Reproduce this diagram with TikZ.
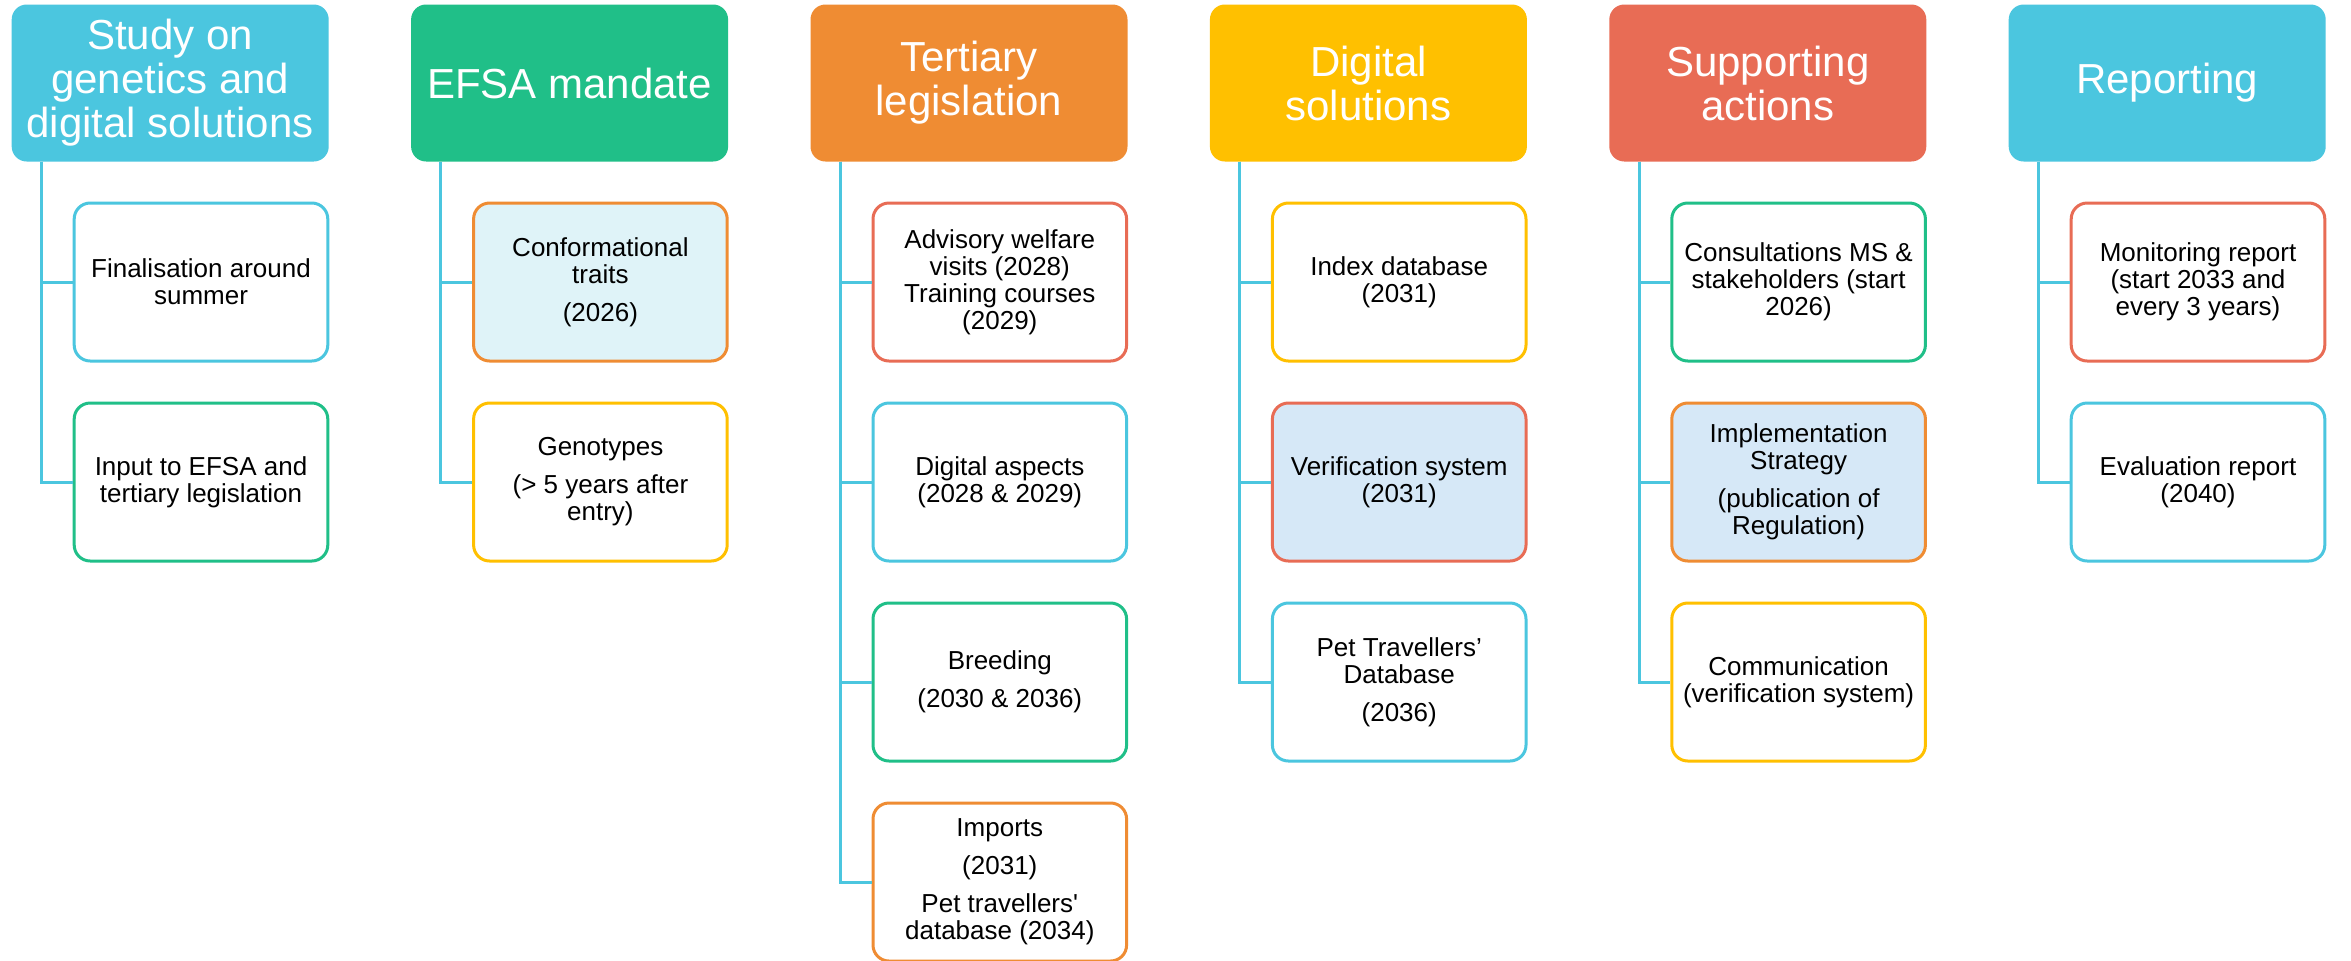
\documentclass[tikz,border=0pt]{standalone}
\usepackage{fontspec}
\setmainfont{Liberation Sans}
\definecolor{ccyan}{HTML}{4BC6DF}
\definecolor{cgreen}{HTML}{20BF88}
\definecolor{corange}{HTML}{EF8C33}
\definecolor{cyellow}{HTML}{FFC000}
\definecolor{cred}{HTML}{E86C55}
\definecolor{fcyan}{HTML}{DFF3F8}
\definecolor{fblue}{HTML}{D6E8F7}
\tikzset{
  hdr/.style={fill=#1, draw=none, rounded corners=7.5pt, minimum width=158.5pt, minimum height=78.5pt,
    inner sep=0pt, align=center, text=white, font=\fontsize{21}{22}\selectfont},
  kid/.style={draw=#1, fill=white, line width=1.5pt, rounded corners=8pt, minimum width=126.8pt, minimum height=79pt,
    inner sep=0pt, align=center, text=black, font=\fontsize{13}{13.5}\selectfont},
  conn/.style={draw=ccyan, line width=1.5pt}
}
\begin{document}
\begin{tikzpicture}[x=0.5pt,y=-0.5pt]
\useasboundingbox (0,0) rectangle (2351,960);
\fill[white] (0,0) rectangle (2351,960);

% ---------- Column 1
\node[hdr=ccyan] (h1) at (170.2,83) {Study on\\genetics and\\digital solutions};
\node[kid=ccyan] (c1a) at (201,282) {Finalisation around\\summer};
\node[kid=cgreen] (c1b) at (201,482) {Input to EFSA and\\tertiary legislation};
\coordinate (t1) at (41.4,161.5);
\draw[conn] (t1) |- (c1b.west);
\draw[conn] (t1) |- (c1a.west);

% ---------- Column 2
\node[hdr=cgreen] (h2) at (569.6,83) {EFSA mandate};
\node[kid=corange, fill=fcyan] (c2a) at (600.4,282) {Conformational\\traits\\[5.5pt](2026)};
\node[kid=cyellow] (c2b) at (600.4,482) {Genotypes\\[5.5pt](> 5 years after\\entry)};
\coordinate (t2) at (440.8,161.5);
\draw[conn] (t2) |- (c2b.west);
\draw[conn] (t2) |- (c2a.west);

% ---------- Column 3
\node[hdr=corange] (h3) at (969,83) {Tertiary\\legislation};
\node[kid=cred] (c3a) at (999.8,282) {Advisory welfare\\visits (2028)\\Training courses\\(2029)};
\node[kid=ccyan] (c3b) at (999.8,482) {Digital aspects\\(2028 \& 2029)};
\node[kid=cgreen] (c3c) at (999.8,682) {Breeding\\[5.5pt](2030 \& 2036)};
\node[kid=corange] (c3d) at (999.8,882) {Imports\\[5.5pt](2031)\\[5.5pt]Pet travellers\textquotesingle\\database (2034)};
\coordinate (t3) at (840.2,161.5);
\draw[conn] (t3) |- (c3d.west);
\draw[conn] (t3) |- (c3c.west);
\draw[conn] (t3) |- (c3b.west);
\draw[conn] (t3) |- (c3a.west);

% ---------- Column 4
\node[hdr=cyellow] (h4) at (1368.4,83) {Digital\\solutions};
\node[kid=cyellow] (c4a) at (1399.2,282) {Index database\\(2031)};
\node[kid=cred, fill=fblue] (c4b) at (1399.2,482) {Verification system\\(2031)};
\node[kid=ccyan] (c4c) at (1399.2,682) {Pet Travellers’\\Database\\[5.5pt](2036)};
\coordinate (t4) at (1239.6,161.5);
\draw[conn] (t4) |- (c4c.west);
\draw[conn] (t4) |- (c4b.west);
\draw[conn] (t4) |- (c4a.west);

% ---------- Column 5
\node[hdr=cred] (h5) at (1767.8,83) {Supporting\\actions};
\node[kid=cgreen] (c5a) at (1798.6,282) {Consultations MS \&\\stakeholders (start\\2026)};
\node[kid=corange, fill=fblue] (c5b) at (1798.6,482) {Implementation\\Strategy\\[5.5pt](publication of\\Regulation)};
\node[kid=cyellow] (c5c) at (1798.6,682) {Communication\\(verification system)};
\coordinate (t5) at (1639,161.5);
\draw[conn] (t5) |- (c5c.west);
\draw[conn] (t5) |- (c5b.west);
\draw[conn] (t5) |- (c5a.west);

% ---------- Column 6
\node[hdr=ccyan] (h6) at (2167.2,83) {Reporting};
\node[kid=cred] (c6a) at (2198,282) {Monitoring report\\(start 2033 and\\every 3 years)};
\node[kid=ccyan] (c6b) at (2198,482) {Evaluation report\\(2040)};
\coordinate (t6) at (2038.4,161.5);
\draw[conn] (t6) |- (c6b.west);
\draw[conn] (t6) |- (c6a.west);
\end{tikzpicture}
\end{document}
